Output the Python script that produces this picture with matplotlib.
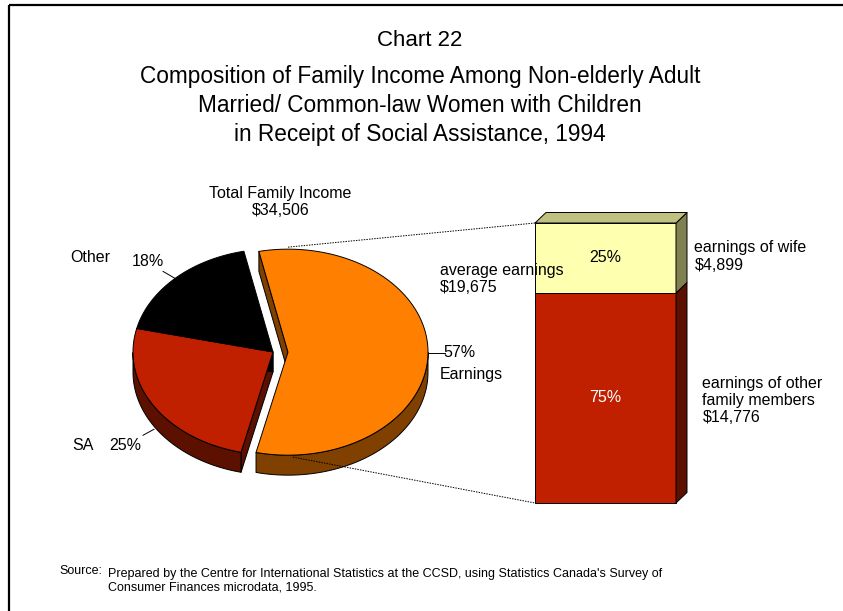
import numpy as np
import matplotlib
matplotlib.use("Agg")
import matplotlib.pyplot as plt
from matplotlib.patches import Polygon

plt.rcParams["font.family"] = ["Liberation Sans", "DejaVu Sans"]

# ---- data -------------------------------------------------------------
pie_names = ["Earnings", "SA", "Other"]
pie_shares = [57, 25, 18]
pie_top = ["#FF8000", "#C02000", "#000000"]
pie_side = ["#804000", "#5C1000", "#000000"]

bar_names = ["earnings of other\nfamily members\n$14,776", "earnings of wife\n$4,899"]
bar_shares = [75, 25]
bar_front = ["#C02000", "#FFFFB0"]
bar_side = ["#5C1000", "#808050"]
bar_lid = "#C0C080"
bar_pct_color = ["white", "black"]

total_income = "$34,506"
avg_earnings = "$19,675"

# ---- canvas in pixel units --------------------------------------------
W, H = 843, 611
fig = plt.figure(figsize=(W / 100, H / 100), dpi=100)
ax = fig.add_axes([0, 0, 1, 1])
ax.set_xlim(0, W)
ax.set_ylim(H, 0)
ax.axis("off")

# frame (only top and left edges show in the original)
ax.plot([9, W], [5, 5], color="black", lw=1.6, solid_capstyle="butt")
ax.plot([9, 9], [5, H], color="black", lw=1.6, solid_capstyle="butt")

# ---- 3-D pie ----------------------------------------------------------
CX, CY, RX, RY, DEPTH = 273, 352, 140, 103, 20
START, EXPLODE = 102.0, 15.0
EDGE = dict(edgecolor="black", linewidth=0.7, joinstyle="round")


def ept(t, cx, cy, dz=0.0):
    r = np.radians(t)
    return np.column_stack([cx + RX * np.cos(r), cy - RY * np.sin(r) + dz])


walls, tops, info = [], [], []
a = START
for name, share, ctop, cside in zip(pie_names, pie_shares, pie_top, pie_side):
    hi, lo = a, a - share * 3.6
    a = lo
    mid = (hi + lo) / 2
    ex = EXPLODE if name == "Earnings" else 0.0
    cx = CX + ex * np.cos(np.radians(mid))
    cy = CY - ex * np.sin(np.radians(mid))
    ts = np.linspace(lo, hi, 200)
    arc = ept(ts, cx, cy)
    apex = np.array([[cx, cy]])
    # radial faces
    for edge_t, normal in ((lo, lo - 90), (hi, hi + 90)):
        if np.sin(np.radians(normal)) < 0:
            p = ept(np.array([edge_t]), cx, cy)
            face = np.vstack([apex, p, p + [0, DEPTH], apex + [0, DEPTH]])
            walls.append(Polygon(face, closed=True, facecolor=cside, **EDGE))
    # outer curved wall: the part on the front half
    front = np.sin(np.radians(ts)) <= 0
    idx = np.flatnonzero(front)
    if idx.size:
        runs = np.split(idx, np.flatnonzero(np.diff(idx) > 1) + 1)
        for run in runs:
            up = arc[run]
            dn = ept(ts[run], cx, cy, DEPTH)[::-1]
            walls.append(Polygon(np.vstack([up, dn]), closed=True,
                                 facecolor=cside, **EDGE))
    tops.append(Polygon(np.vstack([apex, arc]), closed=True,
                        facecolor=ctop, **EDGE))
    info.append((name, share, mid, cx, cy))

for p in walls:
    ax.add_patch(p)
for p in tops:
    ax.add_patch(p)

# pie labels with short leader lines
FS = 11.5
for name, share, mid, cx, cy in info:
    tip = ept(np.array([mid]), cx, cy)[0]
    if name == "Earnings":
        ax.plot([tip[0], tip[0] + 17], [tip[1], tip[1]], color="black", lw=0.7)
        ax.text(443, 352.5, f"{share}%", fontsize=FS, ha="left", va="center")
        ax.text(440, 374, name, fontsize=FS, ha="left", va="center")
        earn_cx, earn_cy = cx, cy
    elif name == "Other":
        ax.plot([tip[0], tip[0] - 12], [tip[1], tip[1] - 7], color="black", lw=0.7)
        ax.text(131.5, 261, f"{share}%", fontsize=FS, ha="left", va="center")
        ax.text(70.5, 257, name, fontsize=FS, ha="left", va="center")
    else:
        tip = tip + [0, DEPTH + 3]
        ax.plot([tip[0], tip[0] - 11], [tip[1], tip[1] + 6], color="black", lw=0.7)
        ax.text(109.5, 446, f"{share}%", fontsize=FS, ha="left", va="center")
        ax.text(72.5, 445, name, fontsize=FS, ha="left", va="center")

ax.text(280.5, 202, "Total Family Income\n" + total_income, fontsize=FS,
        ha="center", va="center", linespacing=1.2)
ax.text(440, 279, "average earnings\n" + avg_earnings, fontsize=FS,
        ha="left", va="center", linespacing=1.2)

# ---- 3-D stacked bar --------------------------------------------------
BX0, BX1, BBOT, BH = 535, 676, 503, 280
DX, DY = 11, -10.5
scale = BH / sum(bar_shares)
y = BBOT
bar_top_y = BBOT - BH
for name, share, cf, cs, pc in zip(bar_names, bar_shares, bar_front, bar_side, bar_pct_color):
    h = share * scale
    y0, y1 = y, y - h
    ax.add_patch(Polygon([[BX0, y0], [BX1, y0], [BX1, y1], [BX0, y1]],
                         closed=True, facecolor=cf, **EDGE))
    ax.add_patch(Polygon([[BX1, y0], [BX1 + DX, y0 + DY], [BX1 + DX, y1 + DY], [BX1, y1]],
                         closed=True, facecolor=cs, **EDGE))
    ax.text((BX0 + BX1) / 2, (y0 + y1) / 2, f"{share}%", fontsize=FS,
            color=pc, ha="center", va="center")
    y = y1
ax.add_patch(Polygon([[BX0, bar_top_y], [BX1, bar_top_y],
                      [BX1 + DX, bar_top_y + DY], [BX0 + DX, bar_top_y + DY]],
                     closed=True, facecolor=bar_lid, **EDGE))

ax.text(694.5, 256.5, bar_names[1], fontsize=FS, ha="left", va="center",
        linespacing=1.2)
ax.text(702.5, 400.5, bar_names[0], fontsize=FS, ha="left", va="center",
        linespacing=1.2)

# dotted connectors from exploded slice to bar
top_pt = ept(np.array([90.0]), earn_cx, earn_cy)[0]
bot_pt = ept(np.array([-88.0]), earn_cx, earn_cy)[0]
ax.plot([top_pt[0], BX0], [top_pt[1] - 2, bar_top_y], color="black",
        lw=0.7, ls=(0, (1.5, 1.2)))
ax.plot([bot_pt[0], BX0], [bot_pt[1] + 2, BBOT], color="black",
        lw=0.7, ls=(0, (1.5, 1.2)))

# ---- titles and source ------------------------------------------------
ax.text(420, 40, "Chart 22", fontsize=16, ha="center", va="center")
for yy, line in zip([77, 106, 135], [
        "Composition of Family Income Among Non-elderly Adult",
        "Married/ Common-law Women with Children",
        "in Receipt of Social Assistance, 1994"]):
    ax.text(420, yy, line, fontsize=16.3, ha="center", va="center")

ax.text(59.5, 571.5, "Source:", fontsize=9, ha="left", va="center")
ax.text(108, 574, "Prepared by the Centre for International Statistics at the CCSD, "
        "using Statistics Canada's Survey of", fontsize=9, ha="left", va="center")
ax.text(108, 587, "Consumer Finances microdata, 1995.", fontsize=9, ha="left",
        va="center")

fig.savefig("out.png", dpi=100)
